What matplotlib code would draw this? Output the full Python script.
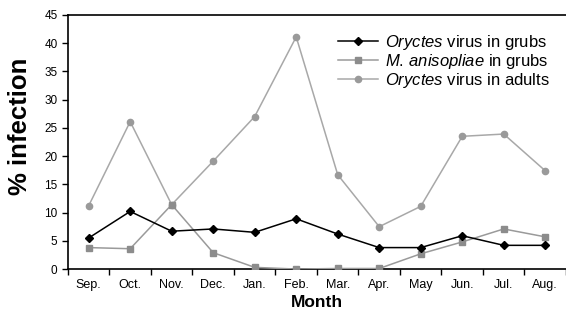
import numpy as np
import matplotlib
matplotlib.use("Agg")
import matplotlib.pyplot as plt

plt.rcParams['font.family'] = ['Liberation Sans', 'DejaVu Sans']
plt.rcParams['mathtext.fontset'] = 'custom'
plt.rcParams['mathtext.it'] = 'Liberation Sans:italic'
plt.rcParams['mathtext.rm'] = 'Liberation Sans'

months = ['Sep.', 'Oct.', 'Nov.', 'Dec.', 'Jan.', 'Feb.', 'Mar.', 'Apr.',
          'May', 'Jun.', 'Jul.', 'Aug.']
virus_grubs = [5.5, 10.2, 6.7, 7.1, 6.5, 8.9, 6.2, 3.8, 3.8, 5.9, 4.2, 4.2]
metarhizium_grubs = [3.8, 3.6, 11.4, 2.9, 0.3, 0.0, 0.1, 0.1, 2.7, 4.8, 7.1, 5.7]
virus_adults = [11.2, 26.1, 11.4, 19.1, 27.0, 41.1, 16.7, 7.5, 11.1, 23.5, 23.9, 17.4]

x = np.arange(len(months))

fig = plt.figure(figsize=(5.66, 3.23), dpi=100)
ax = fig.add_axes([0.12, 0.167, 0.88, 0.787])

ax.plot(x, virus_adults, color='#a8a8a8', lw=1.1, marker='o', ms=4.5,
        mfc='#9a9a9a', mec='#9a9a9a', label=r'$\it{Oryctes}$ virus in adults', zorder=2)
ax.plot(x, metarhizium_grubs, color='#9a9a9a', lw=1.1, marker='s', ms=4.5,
        mfc='#8c8c8c', mec='#8c8c8c', label=r'$\it{M.\/anisopliae}$ in grubs', zorder=3)
ax.plot(x, virus_grubs, color='black', lw=1.1, marker='D', ms=4,
        mfc='black', mec='black', label=r'$\it{Oryctes}$ virus in grubs', zorder=4)

ax.set_xlim(-0.5, len(months) - 0.5)
ax.set_ylim(0, 45)
ax.set_yticks(np.arange(0, 46, 5))
ax.set_xticks(x)
ax.set_xticklabels(months, fontsize=9)
ax.set_xticks(np.arange(-0.5, len(months), 1), minor=True)
ax.tick_params(axis='x', which='major', length=0, pad=7)
ax.tick_params(axis='x', which='minor', length=4, direction='out', width=1)
ax.tick_params(axis='y', labelsize=8.5, length=4, direction='out', width=1)

for s in ['left', 'bottom', 'top']:
    ax.spines[s].set_linewidth(1.2)
ax.spines['right'].set_visible(False)

ax.set_ylabel('% infection', fontsize=18.5, fontweight='bold')
ax.yaxis.set_label_coords(-0.072, 0.56)
ax.set_xlabel('Month', fontsize=12.5, fontweight='bold', labelpad=3)

h, l = ax.get_legend_handles_labels()
leg = ax.legend(h[::-1], l[::-1], loc='upper right', frameon=False, fontsize=12,
                handlelength=2.4, handletextpad=0.4, labelspacing=0.0,
                borderaxespad=0.3, bbox_to_anchor=(0.99, 0.975))
leg.set_zorder(1)

fig.savefig('out.png', dpi=100)
